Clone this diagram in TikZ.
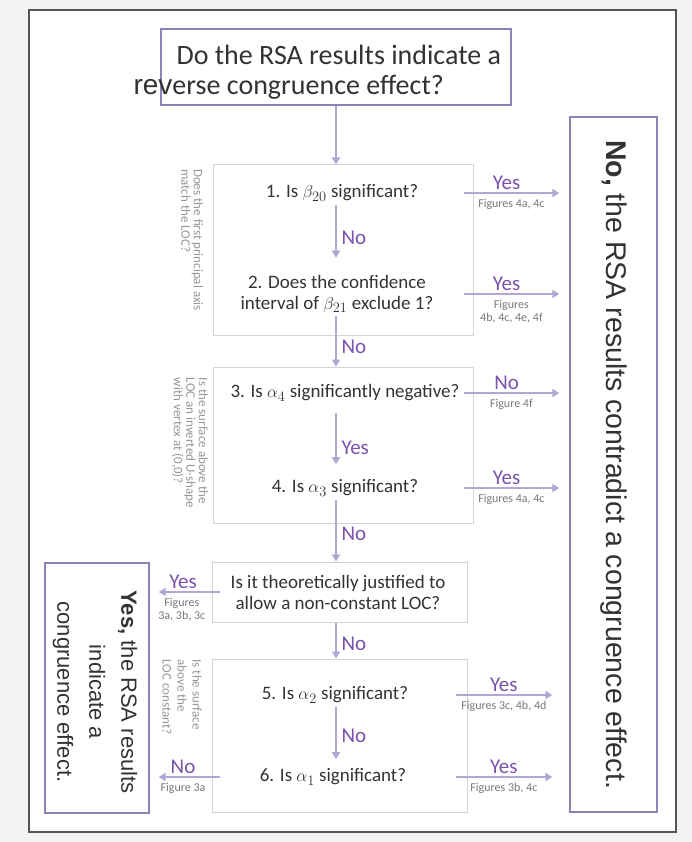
\documentclass[tikz,border=0pt]{standalone}
\usepackage{fontspec}
\setmainfont{Carlito}
\newfontfamily\arialfont{Liberation Sans}
\usetikzlibrary{
  arrows.meta,
  positioning
}
\definecolor{pagecolor}{RGB}{243, 243, 243}
\definecolor{framecolor}{RGB}{85, 85, 85}
\definecolor{outcomecolor}{RGB}{142, 128, 184}
\definecolor{arrowcolor}{RGB}{178, 166, 214}
\definecolor{answercolor}{RGB}{122, 82, 172}
\definecolor{groupcolor}{RGB}{212, 212, 212}
\definecolor{labelcolor}{RGB}{51, 51, 51}
\definecolor{sublabelcolor}{RGB}{120, 120, 120}
\definecolor{sidecolor}{RGB}{150, 150, 150}
\tikzset{
groupbox/.style={
  draw=groupcolor,
  line width=1pt,
  fill=white
},
outcomebox/.style={
  draw=outcomecolor,
  line width=1.4pt,
  fill=white
},
question/.style={
  align=center,
  font=\fontsize{19}{21}\selectfont,
  text=labelcolor
},
answer/.style={
  font=\fontsize{21}{22}\selectfont,
  text=answercolor
},
figlabel/.style={
  align=center,
  font=\fontsize{12}{12.5}\selectfont,
  text=sublabelcolor
},
sidelabel/.style={
  align=left,
  rotate=-90,
  font=\fontsize{13}{12.5}\selectfont,
  text=sidecolor
},
outcometext/.style={
  align=center,
  rotate=-90,
  text=labelcolor
},
arrow/.style={
  -{Triangle[length=7pt,width=8pt]},
  line width=2.4pt,
  draw=arrowcolor
}
}

\begin{document}
\begin{tikzpicture}[x=1pt, y=-1pt]
  \useasboundingbox (0,0) rectangle (692,842);
  % page and frame
  \fill[pagecolor] (0,0) rectangle (692,842);
  \draw[framecolor, line width=1.3pt, fill=white] (29,10) rectangle (676,832);

  % question groups
  \node[groupbox, minimum width=260pt, minimum height=170pt] (blockA) at (343,250) {};
  \node[groupbox, minimum width=260pt, minimum height=156pt] (blockB) at (343,445) {};
  \node[groupbox, minimum width=255pt, minimum height=60pt] (blockC) at (339.5,592) {};
  \node[groupbox, minimum width=255pt, minimum height=153pt] (blockD) at (339.5,735.5) {};

  % outcome boxes
  \node[outcomebox, minimum width=350pt, minimum height=76pt] (start) at (336,67) {};
  \node[outcomebox, minimum width=87pt, minimum height=695pt] (nobox) at (613.5,464.5) {};
  \node[outcomebox, minimum width=104pt, minimum height=250pt] (yesbox) at (97,688) {};

  % outcome texts
  \node[anchor=west, font=\fontsize{28}{30}\selectfont, text=labelcolor] (startA) at (173,55) {Do the RSA results indicate a};
  \node[anchor=west, font=\fontsize{28}{30}\selectfont, text=labelcolor] (startB) at (130,87) {{\arialfont rev}erse congruence effect?};
  \node[outcometext, font=\arialfont\fontsize{28.5}{30}\selectfont] (notext) at (nobox) {\textbf{No,} the RSA results contradict a congruence effect.};
  \node[outcometext, font=\arialfont\fontsize{22}{32}\selectfont] (yestext) at (95,692) {\textbf{Yes,} the RSA results\\indicate a\\congruence effect.};

  % side notes
  \node[sidelabel] (sideA) at (192,240) {Does the first principal axis\\match the LOC?};
  \node[sidelabel] (sideB) at (190,443) {Is the surface above the\\LOC an inverted U-shape\\with vertex at (0,0)?};
  \node[sidelabel, font=\fontsize{13}{15}\selectfont] (sideD) at (182,697) {Is the surface\\above the\\LOC constant?};

  % questions
  \node[question] (q1) at (342,193) {1. Is $\beta_{20}$ significant?};
  \node[question] (q2) at (337,294) {2. Does the confidence\\interval of $\beta_{21}$ exclude 1?};
  \node[question] (q3) at (345,393) {3. Is $\alpha_4$ significantly negative?};
  \node[question] (q4) at (345,488) {4. Is $\alpha_3$ significant?};
  \node[question] (qC) at (338,592) {Is it theoretically justified to\\allow a non-constant LOC?};
  \node[question] (q5) at (335,695) {5. Is $\alpha_2$ significant?};
  \node[question] (q6) at (333,777) {6. Is $\alpha_1$ significant?};

  % arrow ends
  \coordinate (spine) at (336,0);
  \coordinate (exitAB) at ([xshift=-10pt]blockA.east);
  \coordinate (exitD) at ([xshift=-12pt]blockD.east);
  \coordinate (endR) at ([xshift=-10pt]nobox.west);
  \coordinate (endRD) at ([xshift=-17pt]nobox.west);
  \coordinate (exitC) at ([xshift=8pt]blockC.west);
  \coordinate (endL) at ([xshift=9pt]yesbox.east);

  % main path
  \draw[arrow] (start.south -| spine) -- (blockA.north -| spine);
  \draw[arrow, shorten >=14pt] (q1.south -| spine) -- (q2.north -| spine)
    node[answer, midway, right=1pt] {No};
  \draw[arrow] (q2.south -| spine) -- (blockB.north -| spine)
    node[answer, pos=0.6, right=1pt] {No};
  \draw[arrow, shorten <=8pt, shorten >=12pt] (q3.south -| spine) -- (q4.north -| spine)
    node[answer, pos=0.6, right=1pt] {Yes};
  \draw[arrow] (q4.south -| spine) -- (blockC.north -| spine)
    node[answer, pos=0.55, right=1pt] {No};
  \draw[arrow] (blockC.south -| spine) -- (blockD.north -| spine)
    node[answer, pos=0.6, right=1pt] {No};
  \draw[arrow, shorten >=6pt] (q5.south -| spine) -- (q6.north -| spine)
    node[answer, midway, right=1pt] {No};

  % exits to the right
  \draw[arrow] (exitAB |- q1) -- (endR |- q1)
    node[answer, pos=0.45, above=-1pt] {Yes}
    node[figlabel, midway, below=2pt] {Figures 4a, 4c};
  \draw[arrow] (exitAB |- q2) -- (endR |- q2)
    node[answer, pos=0.45, above=-1pt] {Yes}
    node[figlabel, midway, below=2pt] {Figures\\4b, 4c, 4e, 4f};
  \draw[arrow] (exitAB |- q3) -- (endR |- q3)
    node[answer, pos=0.45, above=-1pt] {No}
    node[figlabel, midway, below=2pt] {Figure 4f};
  \draw[arrow] (exitAB |- q4) -- (endR |- q4)
    node[answer, pos=0.45, above=-1pt] {Yes}
    node[figlabel, midway, below=2pt] {Figures 4a, 4c};
  \draw[arrow] (exitD |- q5) -- (endRD |- q5)
    node[answer, midway, above=-1pt] {Yes}
    node[figlabel, midway, below=2pt] {Figures 3c, 4b, 4d};
  \draw[arrow] (exitD |- q6) -- (endRD |- q6)
    node[answer, midway, above=-1pt] {Yes}
    node[figlabel, midway, below=2pt] {Figures 3b, 4c};

  % exits to the left
  \draw[arrow] (exitC |- qC) -- (endL |- qC)
    node[answer, pos=0.6, above=-1pt] {Yes}
    node[figlabel, pos=0.62, below=2pt] {Figures\\3a, 3b, 3c};
  \draw[arrow] (exitC |- q6) -- (endL |- q6)
    node[answer, pos=0.6, above=-1pt] {No}
    node[figlabel, pos=0.6, below=2pt] {Figure 3a};
\end{tikzpicture}
\end{document}
